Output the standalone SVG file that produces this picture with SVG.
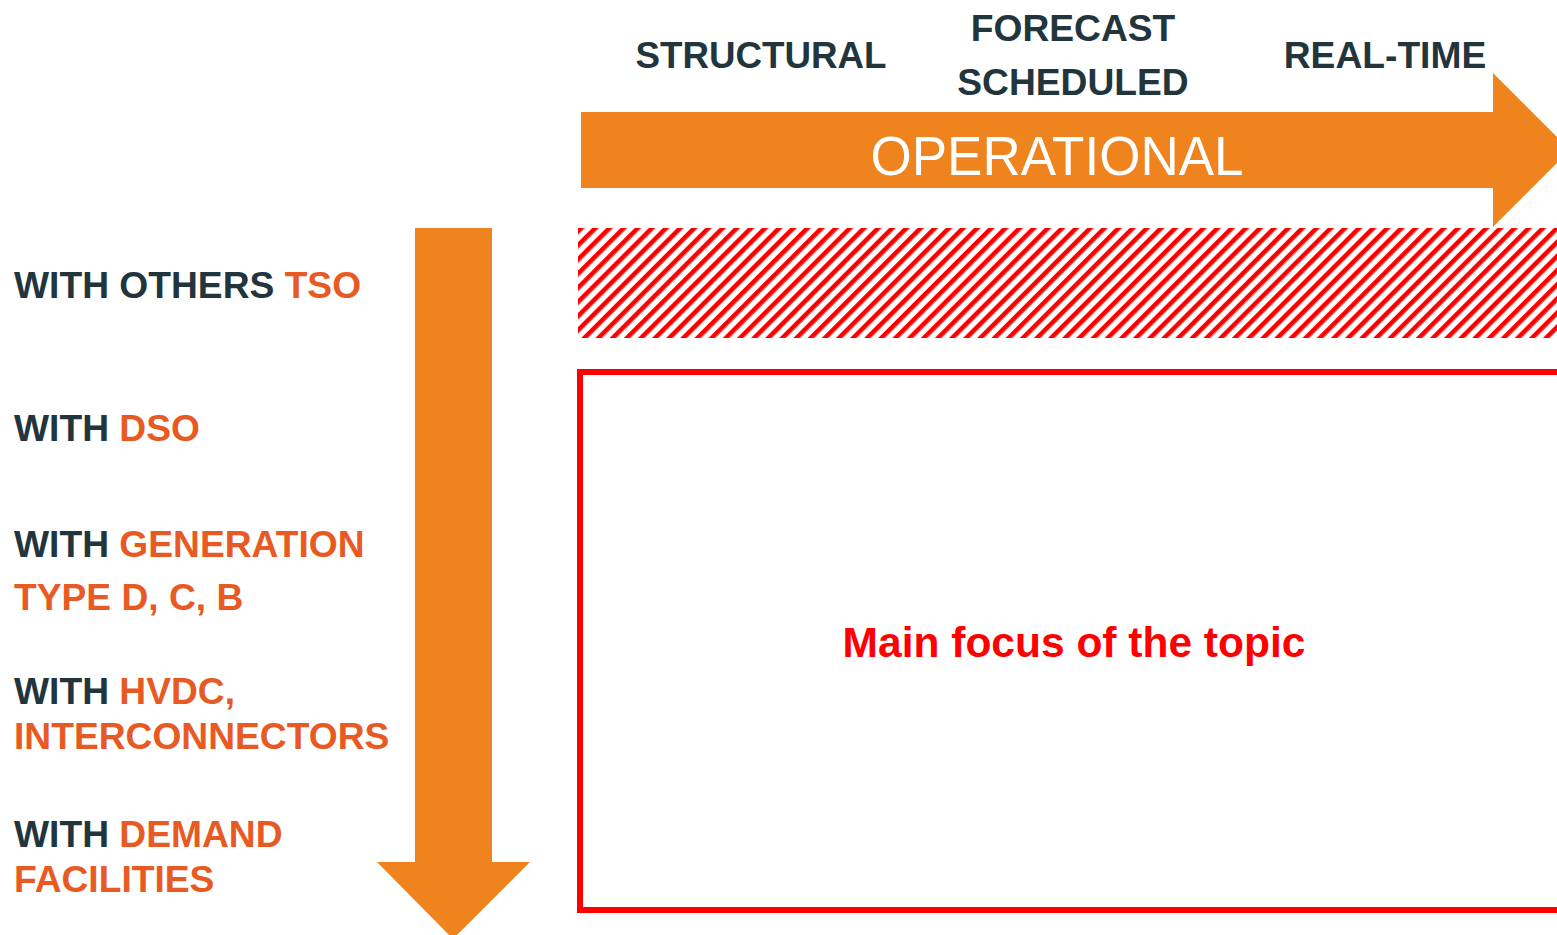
<svg xmlns="http://www.w3.org/2000/svg" width="1557" height="935" viewBox="0 0 1557 935">
<style>
.h{font-family:"Liberation Sans",Arial,sans-serif;font-weight:bold;font-size:37.2px;fill:#22353d}
.o{fill:#e85a24}
.arrow{fill:#ef831d}
</style>
<defs>
<pattern id="hatch" patternUnits="userSpaceOnUse" width="10" height="10" patternTransform="rotate(45)">
<rect x="0" y="0" width="10" height="10" fill="#fff"/>
<rect x="0" y="0" width="4.6" height="10" fill="#ff0000"/>
</pattern>
</defs>
<rect width="1557" height="935" fill="#fff"/>
<g id="time-axis">
<polygon class="arrow" points="581,112 1493,112 1493,73 1570,150 1493,227 1493,188 581,188"/>
<text x="1057" y="175" text-anchor="middle" font-family="Liberation Sans,Arial,sans-serif" font-size="56" fill="#fff" textLength="373" lengthAdjust="spacingAndGlyphs">OPERATIONAL</text>
</g>
<g id="time-labels">
<text class="h" x="761" y="68" text-anchor="middle" textLength="251" lengthAdjust="spacingAndGlyphs">STRUCTURAL</text>
<text class="h" x="1073" y="41" text-anchor="middle">FORECAST</text>
<text class="h" x="1073" y="95" text-anchor="middle">SCHEDULED</text>
<text class="h" x="1385" y="68" text-anchor="middle">REAL-TIME</text>
</g>
<g id="actor-axis">
<polygon class="arrow" points="415,228 492,228 492,862 530,862 453,939 377,862 415,862"/>
</g>
<g id="actor-labels">
<text class="h" x="14" y="298">WITH OTHERS <tspan class="o">TSO</tspan></text>
<text class="h" x="14" y="441">WITH <tspan class="o">DSO</tspan></text>
<text class="h" x="14" y="557">WITH <tspan class="o">GENERATION</tspan></text>
<text class="h o" x="14" y="610">TYPE D, C, B</text>
<text class="h" x="14" y="704">WITH <tspan class="o">HVDC,</tspan></text>
<text class="h o" x="14" y="749">INTERCONNECTORS</text>
<text class="h" x="14" y="847">WITH <tspan class="o">DEMAND</tspan></text>
<text class="h o" x="14" y="892">FACILITIES</text>
</g>
<g id="hatched-band">
<rect x="578" y="228" width="985" height="110" fill="url(#hatch)"/>
</g>
<g id="main-focus">
<rect x="580" y="372" width="990" height="538" fill="none" stroke="#ff0000" stroke-width="6"/>
<text x="1074" y="657" text-anchor="middle" font-family="Liberation Sans,Arial,sans-serif" font-weight="bold" font-size="42.5" fill="#ff0000">Main focus of the topic</text>
</g>
</svg>
